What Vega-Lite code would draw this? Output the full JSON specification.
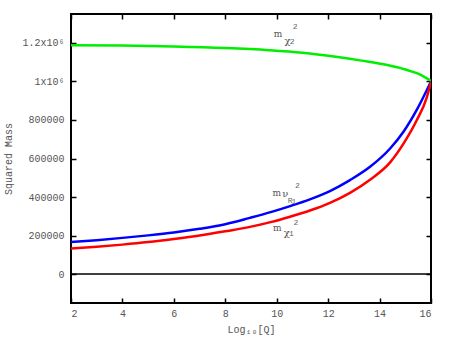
{
  "$schema": "https://vega.github.io/schema/vega-lite/v6.json",
  "width": 360,
  "height": 289,
  "autosize": {"type": "none"},
  "padding": {"left": 71, "top": 14, "right": 19, "bottom": 51},
  "background": "white",
  "config": {
    "view": {"stroke": "black", "strokeWidth": 2},
    "font": "Liberation Mono",
    "axis": {
      "grid": false,
      "domain": false,
      "tickColor": "black",
      "tickWidth": 1.5,
      "tickSize": -5,
      "labelFont": "Liberation Mono",
      "labelFontSize": 10,
      "labelColor": "#555555",
      "titleFont": "Liberation Mono",
      "titleFontSize": 10,
      "titleFontWeight": "normal",
      "titleColor": "#555555"
    }
  },
  "datasets": {
    "curves": [
      {"series": "chi2", "q": 2, "m2": 1188000},
      {"series": "chi2", "q": 4, "m2": 1186000},
      {"series": "chi2", "q": 6, "m2": 1181000},
      {"series": "chi2", "q": 8, "m2": 1173000},
      {"series": "chi2", "q": 9.7, "m2": 1162000},
      {"series": "chi2", "q": 11, "m2": 1149000},
      {"series": "chi2", "q": 12.3, "m2": 1128000},
      {"series": "chi2", "q": 13.3, "m2": 1108000},
      {"series": "chi2", "q": 14.3, "m2": 1085000},
      {"series": "chi2", "q": 15, "m2": 1062000},
      {"series": "chi2", "q": 15.5, "m2": 1040000},
      {"series": "chi2", "q": 16, "m2": 1003000},
      {"series": "nu", "q": 2, "m2": 166000},
      {"series": "nu", "q": 3, "m2": 176000},
      {"series": "nu", "q": 4, "m2": 188000},
      {"series": "nu", "q": 5, "m2": 201000},
      {"series": "nu", "q": 6, "m2": 216000},
      {"series": "nu", "q": 7, "m2": 235000},
      {"series": "nu", "q": 8, "m2": 259000},
      {"series": "nu", "q": 8.96, "m2": 292000},
      {"series": "nu", "q": 9.8, "m2": 323000},
      {"series": "nu", "q": 10.52, "m2": 353000},
      {"series": "nu", "q": 11.29, "m2": 388000},
      {"series": "nu", "q": 12.07, "m2": 431000},
      {"series": "nu", "q": 12.85, "m2": 488000},
      {"series": "nu", "q": 13.63, "m2": 557000},
      {"series": "nu", "q": 14.41, "m2": 652000},
      {"series": "nu", "q": 14.93, "m2": 739000},
      {"series": "nu", "q": 15.44, "m2": 851000},
      {"series": "nu", "q": 16, "m2": 1000000},
      {"series": "chi1", "q": 2, "m2": 133000},
      {"series": "chi1", "q": 3, "m2": 142000},
      {"series": "chi1", "q": 4, "m2": 153000},
      {"series": "chi1", "q": 5, "m2": 166000},
      {"series": "chi1", "q": 6, "m2": 182000},
      {"series": "chi1", "q": 7, "m2": 200000},
      {"series": "chi1", "q": 8, "m2": 222000},
      {"series": "chi1", "q": 8.96, "m2": 245000},
      {"series": "chi1", "q": 9.8, "m2": 271000},
      {"series": "chi1", "q": 10.52, "m2": 298000},
      {"series": "chi1", "q": 11.29, "m2": 330000},
      {"series": "chi1", "q": 12.07, "m2": 370000},
      {"series": "chi1", "q": 12.85, "m2": 422000},
      {"series": "chi1", "q": 13.63, "m2": 490000},
      {"series": "chi1", "q": 14.41, "m2": 580000},
      {"series": "chi1", "q": 14.93, "m2": 677000},
      {"series": "chi1", "q": 15.44, "m2": 797000},
      {"series": "chi1", "q": 15.84, "m2": 918000},
      {"series": "chi1", "q": 16, "m2": 998000}
    ],
    "labels": [
      {"role": "main", "label": "m", "q": 10.05, "m2": 1245000},
      {"role": "sub", "label": "χ", "q": 10.42, "m2": 1212000},
      {"role": "subsub", "label": "2", "q": 10.6, "m2": 1205000},
      {"role": "sup", "label": "2", "q": 10.72, "m2": 1285000},
      {"role": "main", "label": "m", "q": 10.0, "m2": 419000},
      {"role": "sub", "label": "ν", "q": 10.33, "m2": 414000},
      {"role": "subsub", "label": "R", "q": 10.52, "m2": 378000},
      {"role": "subsub", "label": "1", "q": 10.67, "m2": 372000},
      {"role": "sup", "label": "2", "q": 10.8, "m2": 457000},
      {"role": "main", "label": "m", "q": 10.02, "m2": 241000},
      {"role": "sub", "label": "χ", "q": 10.39, "m2": 214000},
      {"role": "subsub", "label": "1", "q": 10.57, "m2": 207000},
      {"role": "sup", "label": "2", "q": 10.75, "m2": 267000}
    ],
    "zero": [{"m2": 0}]
  },
  "layer": [
    {
      "data": {"name": "zero"},
      "mark": {"type": "rule", "color": "black", "strokeWidth": 1.5},
      "encoding": {
        "y": {"field": "m2", "type": "quantitative", "scale": {"domain": [-150000, 1350000], "nice": false}, "axis": null}
      }
    },
    {
      "data": {"name": "curves"},
      "mark": {"type": "line", "strokeWidth": 2.5, "interpolate": "monotone", "clip": true},
      "encoding": {
        "x": {
          "field": "q", "type": "quantitative",
          "scale": {"domain": [2, 16], "nice": false, "zero": false},
          "axis": {"orient": "bottom", "values": [2, 4, 6, 8, 10, 12, 14, 16], "title": "Log₁₀[Q]", "labelPadding": 10, "titlePadding": 6}
        },
        "y": {
          "field": "m2", "type": "quantitative",
          "scale": {"domain": [-150000, 1350000], "nice": false},
          "axis": {
            "orient": "left",
            "values": [0, 200000, 400000, 600000, 800000, 1000000, 1200000],
            "labelExpr": "datum.value == 1200000 ? '1.2x10⁶' : (datum.value == 1000000 ? '1x10⁶' : format(datum.value, 'd'))",
            "title": "Squared Mass",
            "labelPadding": 12,
            "titlePadding": 8
          }
        },
        "color": {
          "field": "series", "type": "nominal",
          "scale": {"domain": ["chi2", "nu", "chi1"], "range": ["#00ee00", "#0000ff", "#ff0000"]},
          "legend": null
        },
        "order": {"field": "q", "type": "quantitative"}
      }
    },
    {
      "data": {"name": "zero"},
      "mark": {"type": "rule", "opacity": 0},
      "encoding": {
        "x": {
          "datum": 2, "type": "quantitative",
          "scale": {"domain": [2, 16], "nice": false, "zero": false},
          "axis": {"orient": "top", "values": [2, 4, 6, 8, 10, 12, 14, 16], "labels": false, "title": null}
        },
        "y": {
          "field": "m2", "type": "quantitative",
          "scale": {"domain": [-150000, 1350000], "nice": false},
          "axis": {"orient": "right", "values": [0, 200000, 400000, 600000, 800000, 1000000, 1200000], "labels": false, "title": null}
        }
      }
    },
    {
      "data": {"name": "labels"},
      "transform": [{"filter": "datum.role == 'main'"}],
      "mark": {"type": "text", "color": "#555555", "font": "DejaVu Serif", "fontSize": 9, "align": "center", "baseline": "middle"},
      "encoding": {
        "x": {"field": "q", "type": "quantitative", "scale": {"domain": [2, 16], "nice": false, "zero": false}, "axis": null},
        "y": {"field": "m2", "type": "quantitative", "scale": {"domain": [-150000, 1350000], "nice": false}, "axis": null},
        "text": {"field": "label", "type": "nominal"}
      }
    },
    {
      "data": {"name": "labels"},
      "transform": [{"filter": "datum.role == 'sub'"}],
      "mark": {"type": "text", "color": "#555555", "font": "DejaVu Serif", "fontSize": 10, "align": "center", "baseline": "middle"},
      "encoding": {
        "x": {"field": "q", "type": "quantitative", "scale": {"domain": [2, 16], "nice": false, "zero": false}, "axis": null},
        "y": {"field": "m2", "type": "quantitative", "scale": {"domain": [-150000, 1350000], "nice": false}, "axis": null},
        "text": {"field": "label", "type": "nominal"}
      }
    },
    {
      "data": {"name": "labels"},
      "transform": [{"filter": "datum.role == 'subsub' || datum.role == 'sup'"}],
      "mark": {"type": "text", "color": "#666666", "font": "Liberation Mono", "fontSize": 8, "align": "center", "baseline": "middle"},
      "encoding": {
        "x": {"field": "q", "type": "quantitative", "scale": {"domain": [2, 16], "nice": false, "zero": false}, "axis": null},
        "y": {"field": "m2", "type": "quantitative", "scale": {"domain": [-150000, 1350000], "nice": false}, "axis": null},
        "text": {"field": "label", "type": "nominal"}
      }
    }
  ],
  "resolve": {"axis": {"x": "independent", "y": "independent"}}
}
